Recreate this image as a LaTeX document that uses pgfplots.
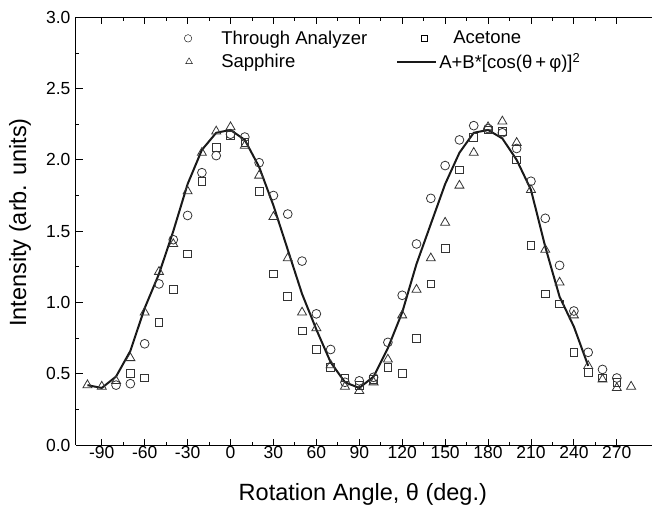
\documentclass[border=0pt]{standalone}
\usepackage{fontspec}
\setmainfont{Liberation Sans}
\usepackage{pgfplots}
\pgfplotsset{compat=1.18}
\pgfplotsset{
 legA/.style={legend image code/.code={\path (0pt,0pt) (40pt,0pt); \draw[##1, mark options={scale=0.85}] plot[only marks] coordinates {(9pt,0pt)};}},
 legB/.style={legend image code/.code={\path (0pt,0pt) (39pt,0pt); \draw[##1, mark options={scale=0.85}] plot[only marks] coordinates {(27pt,0pt)};}},
 legC/.style={legend image code/.code={\path (0pt,0pt) (40pt,0pt); \draw[##1, mark options={scale=0.75}] plot[only marks] coordinates {(10pt,0pt)};}},
 legD/.style={legend image code/.code={\draw[##1] (0pt,0pt) -- (39pt,0pt);}},
}
\begin{document}
\begin{tikzpicture}
\begin{axis}[
 at={(0,0)}, anchor=south west,
 scale only axis, width=576pt, height=427.7pt,
 xmin=-108, xmax=294.6, ymin=0, ymax=3,
 axis x line*=box, axis y line*=left,
 xtick={-90,-60,...,270}, minor x tick num=1,
 ytick={0,0.5,...,3}, minor y tick num=1,
 tick align=inside,
 major tick length=6.5pt, minor tick length=3.5pt,
 tick style={black, line width=0.8pt},
 axis line style={line width=1pt},
 /pgf/number format/assume math mode=true,
 yticklabel style={xshift=-2pt, /pgf/number format/fixed, /pgf/number format/fixed zerofill, /pgf/number format/precision=1},
 xticklabel style={yshift=2pt},
 ticklabel style={font=\fontsize{17.5}{20}\selectfont},
 xlabel={Rotation Angle, θ (deg.)},
 ylabel={Intensity (arb. units)},
 label style={font=\fontsize{23.5}{27}\selectfont},
 xlabel style={at={(axis description cs:0.498,-0.115)}, anchor=center},
 ylabel style={at={(axis description cs:-0.097,0.52)}, anchor=center},
 legend columns=2,
 legend cell align=left,
 legend style={at={(axis description cs:0.173,0.978)}, anchor=north west, draw=none, fill=none,
   font=\fontsize{18.5}{21}\selectfont, row sep=3.5pt,
   /tikz/every even column/.append style={column sep=27pt}},
]
\addplot[only marks, mark=o, mark size=4.4pt, mark options={draw=black!80, line width=0.8pt}, legA]
coordinates {
(-80,0.42) (-70,0.43) (-60,0.71) (-50,1.13) (-40,1.44) (-30,1.61) (-20,1.91) (-10,2.03)
(0,2.18) (10,2.16) (20,1.98) (30,1.75) (40,1.62) (50,1.29) (60,0.92) (70,0.67) (80,0.44)
(90,0.45) (100,0.475) (110,0.72) (120,1.05) (130,1.41) (140,1.73) (150,1.96) (160,2.14)
(170,2.24) (180,2.22) (190,2.19) (200,2.08) (210,1.85) (220,1.59) (230,1.26) (240,0.94)
(250,0.65) (260,0.53) (270,0.47)
};
\addlegendentry{Through Analyzer}
\addplot[only marks, mark=square, mark size=3.9pt, mark options={draw=black!80, line width=0.8pt}, legB]
coordinates {
(-70,0.50) (-60,0.47) (-50,0.86) (-40,1.09) (-30,1.34) (-20,1.85) (-10,2.09) (0,2.17)
(10,2.12) (20,1.78) (30,1.20) (40,1.04) (50,0.80) (60,0.67) (70,0.545) (80,0.47) (90,0.42)
(100,0.46) (110,0.545) (120,0.50) (130,0.75) (140,1.13) (150,1.38) (160,1.93) (170,2.16)
(180,2.21) (190,2.20) (200,2.00) (210,1.40) (220,1.06) (230,0.99) (240,0.65) (250,0.51)
(260,0.47) (270,0.44)
};
\addlegendentry{\hspace{14pt}Acetone}
\addplot[only marks, mark=triangle, mark size=5.2pt, mark options={draw=black!80, line width=0.8pt}, legC]
coordinates {
(-100,0.42) (-90,0.41) (-80,0.45) (-70,0.61) (-60,0.93) (-50,1.215) (-40,1.41) (-30,1.78)
(-20,2.05) (-10,2.20) (0,2.23) (10,2.10) (20,1.89) (30,1.60) (40,1.31) (50,0.93) (60,0.82)
(70,0.56) (80,0.41) (90,0.38) (100,0.44) (110,0.60) (120,0.91) (130,1.09) (140,1.31)
(150,1.56) (160,1.82) (170,2.05) (180,2.23) (190,2.27) (200,2.12) (210,1.79) (220,1.37)
(230,1.14) (240,0.91) (250,0.555) (260,0.46) (270,0.40) (280,0.41)
};
\addlegendentry{Sapphire}
\addplot[black!90, line width=2pt, line join=round, no marks, legD]
coordinates {
(-100,0.42) (-90,0.40) (-80,0.48) (-70,0.66) (-60,0.96) (-50,1.20) (-40,1.50) (-30,1.83)
(-20,2.07) (-10,2.19) (0,2.21) (10,2.14) (20,1.95) (30,1.68) (40,1.37) (50,1.06) (60,0.81)
(70,0.58) (80,0.44) (90,0.40) (100,0.48) (110,0.68) (120,0.93) (130,1.27) (140,1.55)
(150,1.83) (160,2.05) (170,2.19) (180,2.21) (190,2.15) (200,2.00) (210,1.79) (220,1.39)
(230,1.04) (240,0.83) (250,0.555)
};
\addlegendentry{A+B*[cos(θ\,+\,φ)]\textsuperscript{2}}
\end{axis}
\pgfresetboundingbox
\path (-76pt,-66pt) rectangle (576pt,445pt);
\end{tikzpicture}
\end{document}
